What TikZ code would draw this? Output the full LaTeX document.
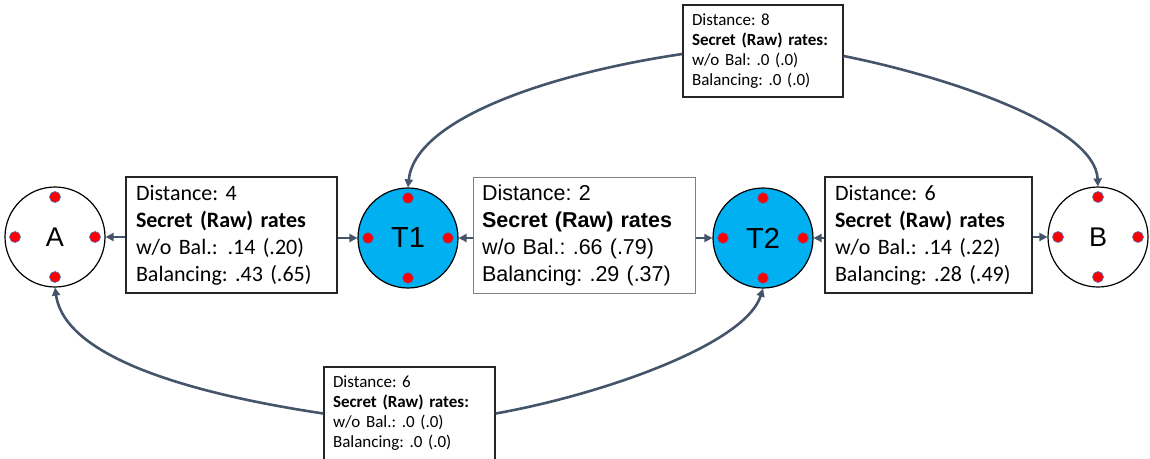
\documentclass[tikz,border=0pt]{standalone}
\usepackage{fontspec}
\setmainfont{Carlito}
\newfontfamily\arialf{Liberation Sans}
\usetikzlibrary{arrows.meta}
\definecolor{arrowc}{HTML}{44546A}
\definecolor{tblue}{HTML}{00B0F0}
\definecolor{dotedge}{HTML}{4472C4}
\definecolor{boxedge}{HTML}{262626}
\frenchspacing
\tikzset{
  conn/.style={draw=arrowc, line width=2.2pt, -{Triangle[length=8pt,width=8pt]}},
  curvec/.style={conn, line width=2.6pt},
  circnode/.style={circle, draw=black, line width=1.2pt, minimum size=100pt, inner sep=0pt},
  endnode/.style={circnode, fill=white, font=\arialf\fontsize{27}{32}\selectfont},
  midnode/.style={circnode, fill=tblue, font=\arialf\fontsize{29}{34}\selectfont},
  reddot/.style={fill=red, draw=dotedge, line width=0.6pt},
  bigbox/.style={draw=boxedge, line width=1.5pt, fill=white, align=left, inner ysep=0pt,
    font=\frenchspacing\fontsize{22}{27}\selectfont},
  smallbox/.style={draw=boxedge, line width=1.3pt, fill=white, align=left, inner ysep=0pt,
    font=\frenchspacing\fontsize{17}{20}\selectfont},
}
\begin{document}
\begin{tikzpicture}[x=1pt,y=-1pt]
\useasboundingbox (0,0) rectangle (1150,458);
% circles
\node[endnode] (A) at (55,237) {A};
\node[midnode] (T1) at (408,238) {T1};
\node[midnode] (T2) at (763,238) {T2};
\node[endnode] (B) at (1098,237) {B};
\foreach \n in {A,T1,T2,B}{
  \fill[reddot] ([yshift=40pt]\n.center) circle (5.5pt);
  \fill[reddot] ([yshift=-40pt]\n.center) circle (5.5pt);
  \fill[reddot] ([xshift=40pt]\n.center) circle (5.5pt);
  \fill[reddot] ([xshift=-40pt]\n.center) circle (5.5pt);
}
% boxes
\node[bigbox, inner xsep=10pt, text width=191pt, minimum height=116pt] (b1) at (231.5,235)
  {Distance: 4\\\textbf{Secret (Raw) rates}\\w/o Bal.:\hspace{0.45em}.14 (.20)\\Balancing: .43 (.65)};
\node[bigbox, draw=gray, line width=1pt, inner xsep=9pt, text width=204pt, minimum height=116pt,
  font=\arialf\frenchspacing\fontsize{21.5}{27}\selectfont] (b2) at (584,235)
  {Distance: 2\\\textbf{Secret (Raw) rates}\\w/o Bal.: .66 (.79)\\Balancing: .29 (.37)};
\node[bigbox, inner xsep=10pt, text width=187pt, minimum height=116pt] (b3) at (928.5,235)
  {Distance: 6\\\textbf{Secret (Raw) rates}\\w/o Bal.: .14 (.22)\\Balancing: .28 (.49)};
\node[smallbox, inner xsep=9pt, text width=142pt, minimum height=92pt] (top) at (763,51)
  {Distance: 8\\\textbf{Secret (Raw) rates:}\\w/o Bal: .0 (.0)\\Balancing: .0 (.0)};
\node[smallbox, inner xsep=9pt, text width=153pt, minimum height=93pt] (bot) at (409.5,413.5)
  {Distance: 6\\\textbf{Secret (Raw) rates:}\\w/o Bal.: .0 (.0)\\Balancing: .0 (.0)};
% straight connectors
\draw[conn] (b1.west |- A.east) -- (A.east);
\draw[conn] (b1.east |- T1.west) -- (T1.west);
\draw[conn] (b2.west |- T1.east) -- (T1.east);
\draw[conn] (b2.east |- T2.west) -- (T2.west);
\draw[conn] (b3.west |- T2.east) -- (T2.east);
\draw[conn] (b3.east |- B.west) -- (B.west);
% curved connectors
\draw[curvec] ([yshift=-3pt]top.west) .. controls (553,73) and (415,118) .. (T1.north);
\draw[curvec] ([yshift=-5pt]top.east) .. controls (953,78) and (1095,127) .. (B.north);
\draw[curvec] (bot.west) .. controls (193,394) and (65,358) .. (A.south);
\draw[curvec] (bot.east) .. controls (600,395) and (745,345) .. (T2.south);
\end{tikzpicture}
\end{document}
